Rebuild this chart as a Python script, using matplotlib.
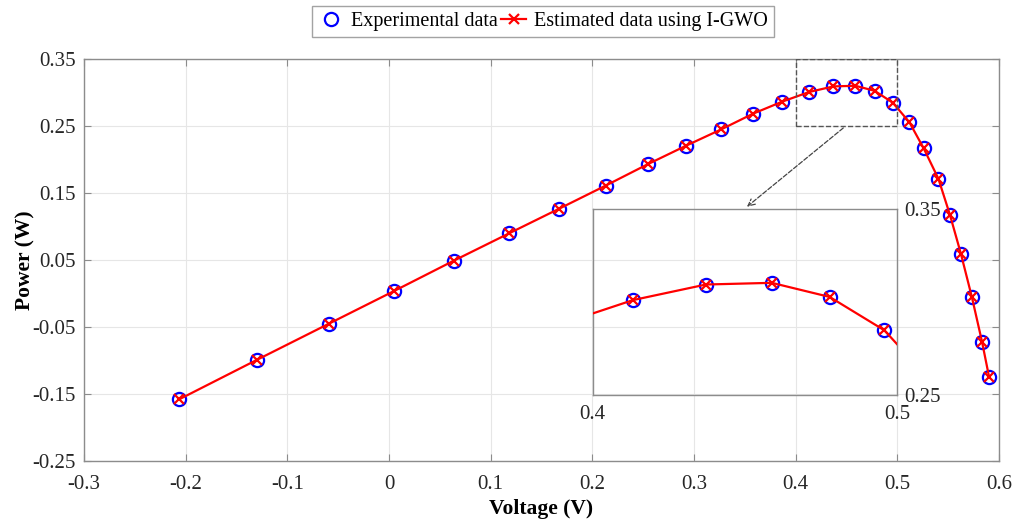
import matplotlib
matplotlib.use("Agg")
import matplotlib.pyplot as plt
import numpy as np

plt.rcParams['font.family'] = ['Liberation Serif', 'DejaVu Serif']

voltage = [-0.2063, -0.1296, -0.0591, 0.0051, 0.0638, 0.1182, 0.1674, 0.2130,
           0.2543, 0.2923, 0.3270, 0.3581, 0.3866, 0.4132, 0.4372, 0.4588,
           0.4778, 0.4958, 0.5119, 0.5259, 0.5404, 0.5518, 0.5626, 0.5734,
           0.5833, 0.5902]
power_exp = [-0.1582, -0.0990, -0.0452, 0.0037, 0.0490, 0.0899, 0.1267, 0.1611,
             0.1930, 0.2209, 0.2454, 0.2687, 0.2866, 0.3011, 0.3095, 0.3104,
             0.3028, 0.2848, 0.2558, 0.2170, 0.1715, 0.1173, 0.0590, -0.0058,
             -0.0721, -0.1244]
power_est = list(power_exp)

xticks = [-0.3, -0.2, -0.1, 0, 0.1, 0.2, 0.3, 0.4, 0.5, 0.6]
xticklabels = ['-0.3', '-0.2', '-0.1', '0', '0.1', '0.2', '0.3', '0.4', '0.5', '0.6']
yticks = [-0.25, -0.15, -0.05, 0.05, 0.15, 0.25, 0.35]
yticklabels = ['-0.25', '-0.15', '-0.05', '0.05', '0.15', '0.25', '0.35']

fig = plt.figure(figsize=(10.14, 5.21), dpi=100)
ax = fig.add_axes([0.0828, 0.1157, 0.9852 - 0.0828, 0.8862 - 0.1157])

spine_c = '#8c8c8c'
def style(a):
    for s in a.spines.values():
        s.set_color(spine_c)
        s.set_linewidth(1.0)
    a.tick_params(direction='in', color=spine_c, labelcolor='#262626', length=5)

h1, = ax.plot(voltage, power_exp, linestyle='none', marker='o', markersize=9.5,
              markerfacecolor='none', markeredgecolor='#0000ff', markeredgewidth=1.6,
              label='Experimental data', zorder=3)
h2, = ax.plot(voltage, power_est, color='#ff0000', linewidth=1.6, marker='x',
              markersize=7, markeredgewidth=1.6, label='Estimated data using I-GWO', zorder=4)

ax.set_xlim(-0.3, 0.6)
ax.set_ylim(-0.25, 0.35)
ax.set_xticks(xticks)
ax.set_xticklabels(xticklabels)
ax.set_yticks(yticks)
ax.set_yticklabels(yticklabels)
style(ax)
ax.tick_params(top=True, right=True, labelsize=15)
ax.tick_params(axis='x', pad=10)
ax.tick_params(axis='y', pad=6)
ax.grid(True, color='#e6e6e6', linewidth=0.8)
ax.set_axisbelow(True)
ax.set_xlabel('Voltage (V)', fontsize=15.5, fontweight='bold', labelpad=4)
ax.set_ylabel('Power (W)', fontsize=15.5, fontweight='bold', labelpad=-2)

# zoom rectangle
ax.plot([0.4, 0.5, 0.5, 0.4, 0.4], [0.25, 0.25, 0.35, 0.35, 0.25], linestyle='--',
        color='#555555', linewidth=1.0, zorder=5)
ax.annotate('', xy=(0.35, 0.127), xytext=(0.449, 0.25),
            arrowprops=dict(arrowstyle='->', linestyle='--', color='#444444', lw=0.9,
                            mutation_scale=12))

# inset
ins = fig.add_axes([0.5845, 0.2418, 0.8849 - 0.5845, 0.5983 - 0.2418])
ins.patch.set_alpha(0)
ins.plot(voltage, power_exp, linestyle='none', marker='o', markersize=9.5,
         markerfacecolor='none', markeredgecolor='#0000ff', markeredgewidth=1.6, zorder=3)
ins.plot(voltage, power_est, color='#ff0000', linewidth=1.6, marker='x',
         markersize=7, markeredgewidth=1.6, zorder=4)
ins.set_xlim(0.4, 0.5)
ins.set_ylim(0.25, 0.35)
ins.set_xticks([0.4, 0.5])
ins.set_xticklabels(['0.4', '0.5'])
ins.set_yticks([0.25, 0.35])
ins.set_yticklabels(['0.25', '0.35'])
style(ins)
ins.tick_params(labelsize=15, length=0, left=False, right=True, labelleft=False,
                labelright=True)
ins.tick_params(axis='x', pad=7)
ins.tick_params(axis='y', pad=5)

fig.legend(handles=[h1, h2], loc='center', bbox_to_anchor=(0.5355, 0.958), ncol=2,
           fontsize=14.5, frameon=True, fancybox=False, edgecolor='#8c8c8c',
           handlelength=1.2, handletextpad=0.4, columnspacing=0.2, borderpad=0.3,
           borderaxespad=0)

fig.savefig('out.png', dpi=100)
